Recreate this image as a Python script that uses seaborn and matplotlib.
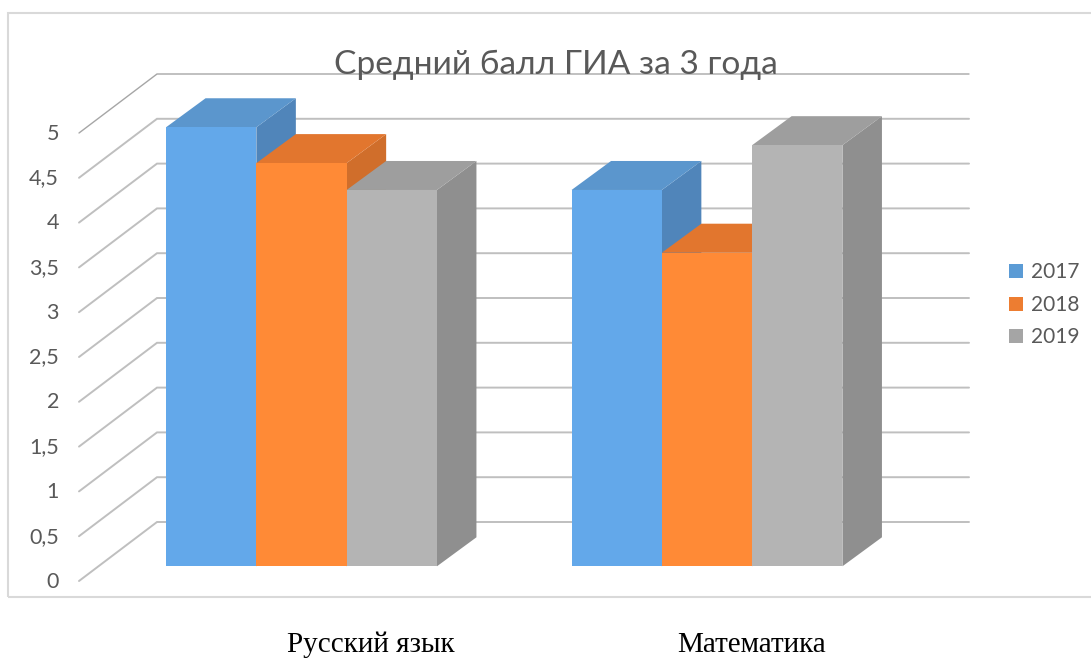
import matplotlib
matplotlib.use("Agg")
import matplotlib.pyplot as plt
import pandas as pd
import seaborn as sns
from matplotlib.lines import Line2D
from matplotlib.patches import Patch, Polygon, Rectangle

categories = ["Русский язык", "Математика"]
years = ["2017", "2018", "2019"]
values_2017 = [4.9, 4.2]
values_2018 = [4.5, 3.5]
values_2019 = [4.2, 4.7]
tick_values = [0, 0.5, 1, 1.5, 2, 2.5, 3, 3.5, 4, 4.5, 5]
tick_labels = ["0", "0,5", "1", "1,5", "2", "2,5", "3", "3,5", "4", "4,5", "5"]
chart_title = "Средний балл ГИА за 3 года"

front_colors = ["#63A8EA", "#FF8A36", "#B4B4B4"]
top_colors = ["#5B96CD", "#E2762E", "#9E9E9E"]
side_colors = ["#5085BA", "#D06E2B", "#8F8F8F"]
legend_colors = ["#5B9BD5", "#ED7D31", "#A5A5A5"]
text_color = "#595959"

W, H = 1091, 659
X0, X_UNIT = 301.5, 405.5   # pixel of first category, pixels per category
Y0, Y_UNIT = 566.3, 89.6    # pixel of value 0 in the bar plane, pixels per unit

sns.set_theme(style="white")
plt.rcParams["font.family"] = ["Lato", "DejaVu Sans"]

fig = plt.figure(figsize=(W / 100, H / 100), dpi=100, facecolor="white")
ax = fig.add_axes([0, 0, 1, 1])

df = pd.DataFrame({
    "category": categories * 3,
    "year": sum([[y] * 2 for y in years], []),
    "value": values_2017 + values_2018 + values_2019,
})
sns.barplot(data=df, x="category", y="value", hue="year", order=categories,
            hue_order=years, palette=front_colors, saturation=1, width=0.668,
            gap=0, errorbar=None, legend=False, linewidth=0, ax=ax)

ax.set_xlim(-X0 / X_UNIT, (W - X0) / X_UNIT)
ax.set_ylim((Y0 - H) / Y_UNIT, Y0 / Y_UNIT)
ax.axis("off")


def px(x):
    return (x - X0) / X_UNIT


def py(y):
    return (Y0 - y) / Y_UNIT


# chart frame (open on the right, where it runs off the picture)
ax.add_patch(Rectangle((px(8), py(596.5)), px(1100) - px(8), py(12.5) - py(596.5),
                       fill=False, ec="#D9D9D9", lw=1.5, zorder=0.5))

# 3D wall: diagonals on the left and horizontal lines at the back
back_shift = (Y0 - 522) / Y_UNIT
front_shift = (Y0 - 581) / Y_UNIT
for v, lab in zip(tick_values, tick_labels):
    col = "#A6A6A6" if v == 5 else "#BFBFBF"
    lw = 1.0 if v == 5 else 1.4
    ax.add_line(Line2D([px(79), px(157), px(969)],
                       [v + front_shift, v + back_shift, v + back_shift],
                       color=col, lw=lw, zorder=1, solid_joinstyle="miter"))
    ax.text(px(59), v + front_shift - 0.5 / Y_UNIT, lab, ha="right", va="center",
            fontsize=15.5, color=text_color, zorder=20)

# 3D depth of each bar, drawn left to right so nearer faces overlap correctly
dx = 39.5 / X_UNIT
dy = 29 / Y_UNIT
for c in range(len(categories)):
    for h, cont in enumerate(ax.containers):
        bar = cont[c]
        x0, x1 = bar.get_x(), bar.get_x() + bar.get_width()
        top = bar.get_height()
        z = 2 + c * 3 + h
        bar.set_zorder(z + 0.2)
        ax.add_patch(Polygon([(x1, 0), (x1 + dx, dy), (x1 + dx, top + dy), (x1, top)],
                             closed=True, fc=side_colors[h], ec="none", zorder=z))
        ax.add_patch(Polygon([(x0, top), (x0 + dx, top + dy), (x1 + dx, top + dy), (x1, top)],
                             closed=True, fc=top_colors[h], ec="none", zorder=z + 0.1))

ax.text(px(556), py(65), chart_title, ha="center", va="center", fontsize=24.1,
        color=text_color, zorder=30)

for name, x_pix in zip(categories, [371, 752]):
    ax.text(px(x_pix), py(645), name, ha="center", va="center", fontsize=21,
            family="Liberation Serif", color="black", zorder=30)

handles = [Patch(fc=c, ec="none", label=y) for c, y in zip(legend_colors, years)]
ax.legend(handles=handles, loc="center left", bbox_to_anchor=(1009 / W, 1 - 305 / H),
          frameon=False, fontsize=15, labelcolor=text_color, handlelength=0.67,
          handleheight=0.67, handletextpad=0.38, labelspacing=0.6,
          borderpad=0, borderaxespad=0)

fig.savefig("out.png", dpi=100)
